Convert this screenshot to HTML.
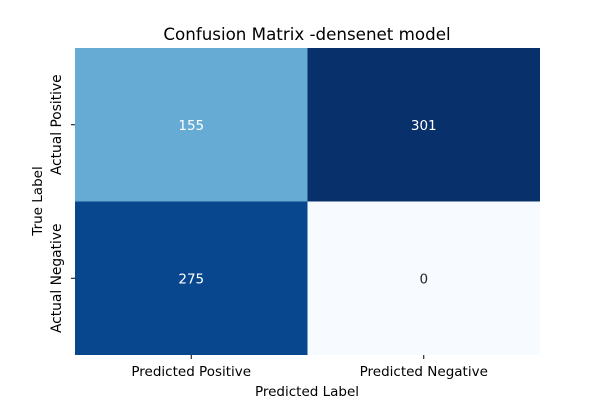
<!DOCTYPE html>
<html><head><meta charset="utf-8"><style>
body{margin:0;background:#fff;}
svg{display:block;font-family:"DejaVu Sans","Liberation Sans",sans-serif;}
</style></head><body>
<svg id="chart" width="600" height="400">
<text x="307" y="40" font-size="16.7" text-anchor="middle" fill="#000">Confusion Matrix -densenet model</text>
<g id="cells"></g>
<text x="307" y="396" font-size="13.5" text-anchor="middle">Predicted Label</text>
<text transform="translate(42,201) rotate(-90)" font-size="13.5" text-anchor="middle">True Label</text>
</svg>
<script>
const rowLabels=["Actual Positive","Actual Negative"];
const colLabels=["Predicted Positive","Predicted Negative"];
const values=[[155,301],[275,0]];
const L=75,R=540,T=48,B=355;
const blues=[[247,251,255],[222,235,247],[198,219,239],[158,202,225],[107,174,214],[66,146,198],[33,113,181],[8,81,156],[8,48,107]];
function color(t){t=Math.max(0,Math.min(1,t));const p=t*(blues.length-1);const i=Math.min(Math.floor(p),blues.length-2);const f=p-i;const a=blues[i],b=blues[i+1];return `rgb(${a.map((v,k)=>Math.round(v+(b[k]-v)*f)).join(',')})`;}
const flat=values.flat();const vmin=Math.min(...flat),vmax=Math.max(...flat);
const cw=(R-L)/colLabels.length,ch=(B-T)/rowLabels.length;
const xS=j=>L+j*cw,yS=i=>T+i*ch;
const g=document.getElementById('cells');const NS="http://www.w3.org/2000/svg";
function mk(t,attrs){const e=document.createElementNS(NS,t);for(const k in attrs)e.setAttribute(k,attrs[k]);return e;}
values.forEach((row,i)=>row.forEach((v,j)=>{
 const t=(v-vmin)/(vmax-vmin);
 const r=mk('rect',{x:xS(j),y:yS(i),width:cw,height:ch,fill:color(t)});
 
 
 g.appendChild(r);
 const tx=mk('text',{x:xS(j)+cw/2,y:yS(i)+ch/2+5,'font-size':13.5,'text-anchor':'middle',fill:t>0.5?'#fff':'#262626'});
 tx.textContent=v;
 
 
 g.appendChild(tx);
}));
colLabels.forEach((c,j)=>{
 const x=xS(j)+cw/2;
 const tk=mk('line',{x1:x,x2:x,y1:B,y2:B+4,stroke:'#000','stroke-width':1});
 
 
 g.appendChild(tk);
 const t=mk('text',{x:x,y:B+21,'font-size':13.5,'text-anchor':'middle'});t.textContent=c;
 
 
 g.appendChild(t);
});
rowLabels.forEach((c,i)=>{
 const y=yS(i)+ch/2;
 const tk=mk('line',{x1:L-4,x2:L,y1:y,y2:y,stroke:'#000','stroke-width':1});
 
 
 g.appendChild(tk);
 const t=mk('text',{transform:`translate(${L-14},${y}) rotate(-90)`,'font-size':13.8,'text-anchor':'middle'});t.textContent=c;
 
 
 g.appendChild(t);
});
</script>
</body></html>
